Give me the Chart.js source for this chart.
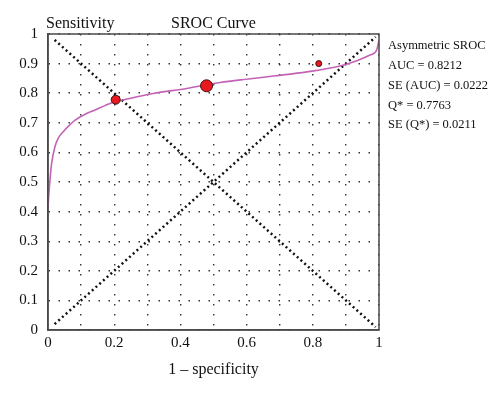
<!DOCTYPE html>
<html>
<head>
<meta charset="utf-8">
<script src="https://cdn.jsdelivr.net/npm/chart.js@4"></script>
<style>
  html, body { margin: 0; padding: 0; background: #fff; }
  #wrap { width: 500px; height: 395px; }
</style>
</head>
<body>
<div id="wrap"><canvas id="sroc" width="500" height="395"></canvas></div>
<script>
// SROC curve
var curveX = [0, 0.002, 0.006, 0.011, 0.021, 0.031, 0.046, 0.065, 0.082, 0.112, 0.142, 0.172, 0.202, 0.233, 0.318, 0.419, 0.52, 0.605, 0.681, 0.782, 0.882, 0.933, 0.973, 0.993, 1];
var curveY = [0.41, 0.45, 0.507, 0.563, 0.619, 0.648, 0.670, 0.692, 0.709, 0.729, 0.743, 0.758, 0.771, 0.779, 0.799, 0.816, 0.836, 0.848, 0.858, 0.872, 0.892, 0.91, 0.929, 0.946, 0.98];

// study points (1 - specificity, sensitivity) and marker size
var studyX = [0.2045, 0.479, 0.818];
var studyY = [0.778, 0.825, 0.900];
var studySize = [4.5, 6, 3];

// reference diagonals
var chanceX = [0.02, 0.99];
var chanceY = [0.02, 0.99];
var antiX = [0.02, 0.99];
var antiY = [0.98, 0.01];

var statLines = ['Asymmetric SROC', 'AUC = 0.8212', 'SE (AUC) = 0.0222', 'Q* = 0.7763', 'SE (Q*) = 0.0211'];

var serif = '"Liberation Serif", "DejaVu Serif", serif';

function pairs(xs, ys) {
    return xs.map(function (x, i) {
        return {x: x, y: ys[i]};
    });
}

var textPlugin = {
    id: 'srocText',
    afterDraw: function (chart) {
        var ctx = chart.ctx;
        var area = chart.chartArea;
        ctx.save();
        // box on top and right
        ctx.strokeStyle = '#4a4a4a';
        ctx.lineWidth = 1.5;
        ctx.strokeRect(area.left, area.top, area.right - area.left, area.bottom - area.top);

        ctx.fillStyle = '#111';
        ctx.textBaseline = 'alphabetic';
        ctx.font = '16px ' + serif;
        ctx.textAlign = 'left';
        ctx.fillText('Sensitivity', 46, 28);
        ctx.textAlign = 'center';
        ctx.fillText('SROC Curve', (area.left + area.right) / 2, 28);

        ctx.font = '12.5px ' + serif;
        ctx.textAlign = 'left';
        ctx.textBaseline = 'middle';
        for (var i = 0; i < statLines.length; i++) {
            ctx.fillText(statLines[i], 388, 46 + i * 19.8);
        }
        ctx.restore();
    }
};

var gridStyle = {
    color: '#333',
    lineWidth: 1.4,
    drawTicks: false
};
var borderStyle = {
    color: '#4a4a4a',
    width: 1.5,
    dash: [1.5, 8.5]
};

var ctx = document.getElementById('sroc');
new Chart(ctx, {
    type: 'scatter',
    data: {
        datasets: [{
            type: 'line',
            data: pairs(chanceX, chanceY),
            borderColor: '#111',
            borderWidth: 2.5,
            borderDash: [2, 3],
            pointRadius: 0,
            order: 3
        }, {
            type: 'line',
            data: pairs(antiX, antiY),
            borderColor: '#111',
            borderWidth: 2.5,
            borderDash: [2, 3],
            pointRadius: 0,
            order: 3
        }, {
            type: 'line',
            data: pairs(curveX, curveY),
            borderColor: '#c462b6',
            borderWidth: 1.6,
            cubicInterpolationMode: 'monotone',
            pointRadius: 0,
            order: 2
        }, {
            data: pairs(studyX, studyY),
            backgroundColor: '#e8191e',
            borderColor: '#3a1010',
            borderWidth: 1,
            pointRadius: studySize,
            order: 1
        }]
    },
    options: {
        responsive: false,
        animation: false,
        events: [],
        layout: {
            padding: {left: 0, top: 34, right: 121, bottom: 0}
        },
        plugins: {
            legend: {display: false},
            tooltip: {enabled: false}
        },
        scales: {
            x: {
                type: 'linear',
                min: 0,
                max: 1,
                afterFit: function (s) { s.height = 65; },
                grid: gridStyle,
                border: borderStyle,
                ticks: {
                    stepSize: 0.1,
                    padding: 4,
                    color: '#111',
                    maxRotation: 0,
                    autoSkip: false,
                    font: {family: serif, size: 15},
                    callback: function (v) {
                        var r = Math.round(v * 10);
                        if (r % 2 !== 0) return '';
                        return String(r / 10);
                    }
                },
                title: {
                    display: true,
                    text: '1 – specificity',
                    color: '#111',
                    font: {family: serif, size: 16},
                    padding: {top: 0, bottom: 16}
                }
            },
            y: {
                type: 'linear',
                min: 0,
                max: 1,
                afterFit: function (s) { s.width = 48; },
                grid: gridStyle,
                border: borderStyle,
                ticks: {
                    stepSize: 0.1,
                    padding: 10,
                    color: '#111',
                    font: {family: serif, size: 15},
                    callback: function (v) {
                        return String(Math.round(v * 10) / 10);
                    }
                }
            }
        }
    },
    plugins: [textPlugin]
});
</script>
</body>
</html>
